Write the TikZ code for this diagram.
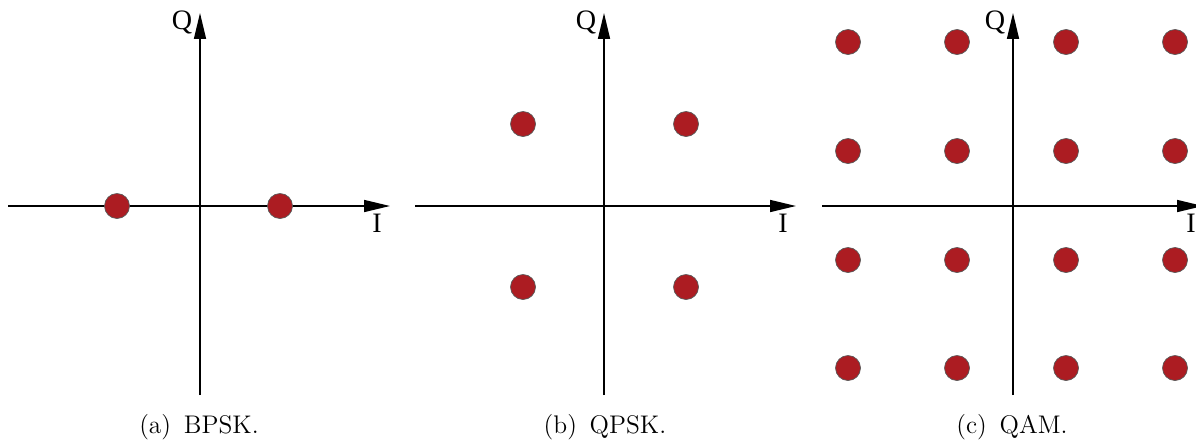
\documentclass[tikz,border=0pt]{standalone}
\usepackage{fontspec}
\newfontfamily\axisfont{Liberation Serif}
\usetikzlibrary{arrows.meta}
\definecolor{dotred}{RGB}{172,28,34}

\begin{document}
\begin{tikzpicture}[x=0.02cm,y=-0.02cm,>={Triangle[length=0.52cm,width=0.24cm]},
  axis/.style={->,line width=0.9pt},
  sym/.style={circle,fill=dotred,draw=black!65,line width=0.4pt,minimum size=0.5cm,inner sep=0pt},
  lbl/.style={font=\axisfont\fontsize{16}{18}\selectfont,inner sep=0pt},
  capt/.style={font=\fontsize{14.5}{17}\selectfont,anchor=base,inner sep=0pt}]
\useasboundingbox (0,0) rectangle (1196,440);
% (a) BPSK
\coordinate (aW) at (8,206);
\coordinate (aE) at (390,206);
\coordinate (aS) at (200,395);
\coordinate (aN) at (200,13);
\draw[axis] (aW) -- (aE);
\draw[axis] (aS) -- (aN);
\node[lbl] (aQ) at (182,22) {Q};
\node[lbl] (aI) at (377,223) {I};
\node[sym] (a1) at (117,206) {};
\node[sym] (a2) at (280,206) {};
\node[capt] (acap) at (199,433) {(a)\hspace{0.5em}BPSK.};
% (b) QPSK
\coordinate (bW) at (415,206);
\coordinate (bE) at (796,206);
\coordinate (bS) at (604,395);
\coordinate (bN) at (604,13);
\draw[axis] (bW) -- (bE);
\draw[axis] (bS) -- (bN);
\node[lbl] (bQ) at (586,22) {Q};
\node[lbl] (bI) at (783,223) {I};
\node[sym] (b1) at (523,124) {};
\node[sym] (b2) at (686,124) {};
\node[sym] (b3) at (523,287) {};
\node[sym] (b4) at (686,287) {};
\node[capt] (bcap) at (605,433) {(b)\hspace{0.5em}QPSK.};
% (c) QAM
\coordinate (cW) at (822,206);
\coordinate (cE) at (1203,206);
\coordinate (cS) at (1013,395);
\coordinate (cN) at (1013,13);
\draw[axis] (cW) -- (cE);
\draw[axis] (cS) -- (cN);
\node[lbl] (cQ) at (995,22) {Q};
\node[lbl] (cI) at (1191,223) {I};
\foreach \x [count=\i] in {848,957,1066,1175}
  \foreach \y [count=\j] in {42,151,260,368}
    \node[sym] (c\i\j) at (\x,\y) {};
\node[capt] (ccap) at (1012,433) {(c)\hspace{0.5em}QAM.};
\end{tikzpicture}
\end{document}
